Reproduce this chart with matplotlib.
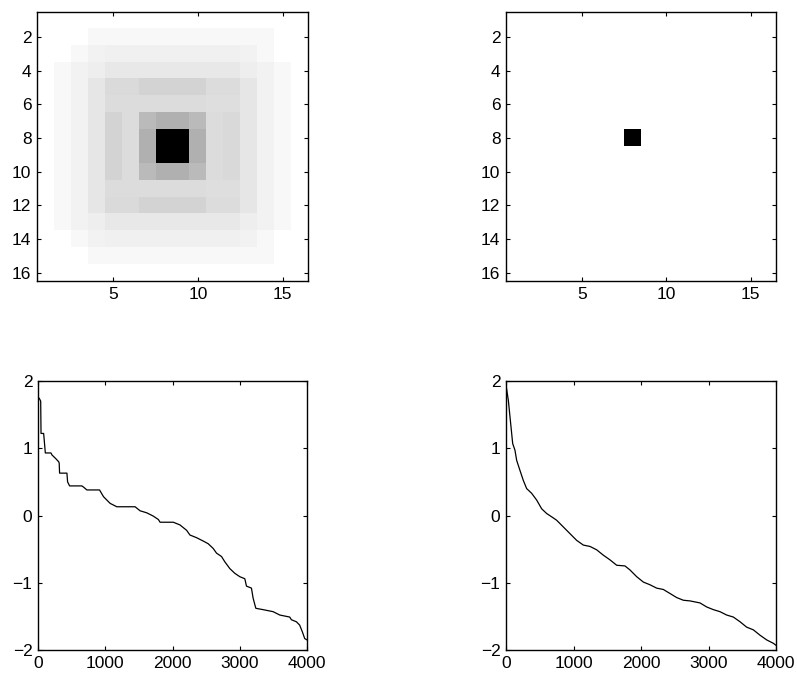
import numpy as np
import matplotlib
matplotlib.use("Agg")
import matplotlib.pyplot as plt

plt.rcParams['font.family'] = ['Liberation Sans', 'DejaVu Sans']

# ---- data ----
# darkness levels (0 = white, 255 = black) of the left 16x16 image, row by row
row_outer2 = [0, 0, 0, 7, 7, 7, 7, 7, 7, 7, 7, 7, 7, 7, 0, 0]
row_outer3 = [0, 0, 7, 13, 15, 15, 15, 15, 15, 15, 15, 15, 13, 7, 0, 0]
row_outer4 = [0, 7, 13, 17, 23, 23, 23, 23, 23, 23, 23, 23, 17, 13, 7, 0]
row_mid5 = [0, 7, 13, 25, 37, 37, 43, 43, 43, 43, 35, 35, 25, 13, 7, 0]
row_mid6 = [0, 7, 13, 25, 35, 35, 35, 35, 35, 35, 33, 33, 25, 13, 7, 0]
row_mid7 = [0, 7, 13, 25, 43, 35, 69, 79, 79, 69, 35, 38, 25, 13, 7, 0]
row_core8 = [0, 7, 13, 25, 43, 35, 79, 255, 255, 79, 35, 38, 25, 13, 7, 0]
row_blank = [0] * 16
image_left = [row_blank, row_outer2, row_outer3, row_outer4, row_mid5, row_mid6,
              row_mid7, row_core8, row_core8, row_mid7, row_mid6, row_mid5,
              row_outer4, row_outer3, row_outer2, row_blank]

image_right_peak_row = 8
image_right_peak_col = 8

# sorted curve, left (step-like)
left_x = [0, 20, 40, 45, 84, 109, 193, 208, 260, 307, 315, 321, 430, 440, 470, 653,
          680, 727, 915, 974, 1023, 1073, 1172, 1444, 1518, 1617, 1716, 1790, 1815,
          2012, 2111, 2160, 2210, 2259, 2358, 2457, 2531, 2605, 2655, 2729, 2779,
          2853, 2927, 3001, 3075, 3100, 3174, 3199, 3239, 3347, 3496, 3595, 3743,
          3768, 3842, 3891, 3931, 3966, 4000]
left_y = [1.76, 1.74, 1.70, 1.22, 1.22, 0.93, 0.93, 0.90, 0.85, 0.80, 0.78, 0.63,
          0.63, 0.50, 0.44, 0.44, 0.42, 0.38, 0.38, 0.28, 0.23, 0.18, 0.13, 0.13,
          0.07, 0.04, -0.01, -0.06, -0.10, -0.10, -0.14, -0.18, -0.22, -0.29, -0.33,
          -0.38, -0.42, -0.49, -0.56, -0.61, -0.69, -0.79, -0.86, -0.91, -0.94,
          -1.05, -1.08, -1.23, -1.38, -1.40, -1.43, -1.48, -1.51, -1.55, -1.58,
          -1.63, -1.73, -1.83, -1.85]

# sorted curve, right (smooth)
right_x = [0, 35, 59, 99, 133, 158, 207, 257, 306, 380, 454, 528, 602, 677, 750,
           849, 948, 1047, 1146, 1244, 1343, 1442, 1541, 1640, 1763, 1837, 1936,
           2035, 2133, 2232, 2331, 2430, 2528, 2627, 2726, 2874, 2973, 3072, 3170,
           3269, 3368, 3467, 3565, 3664, 3763, 3862, 3960, 4000]
right_y = [1.94, 1.71, 1.47, 1.07, 0.97, 0.82, 0.67, 0.52, 0.40, 0.33, 0.23, 0.10,
           0.03, -0.02, -0.07, -0.17, -0.27, -0.37, -0.44, -0.46, -0.51, -0.59,
           -0.66, -0.74, -0.75, -0.81, -0.91, -0.99, -1.03, -1.08, -1.10, -1.16,
           -1.22, -1.26, -1.27, -1.30, -1.36, -1.40, -1.43, -1.48, -1.51, -1.58,
           -1.66, -1.70, -1.78, -1.85, -1.90, -1.93]

img_ticks_x = [5, 10, 15]
img_ticks_y = [2, 4, 6, 8, 10, 12, 14, 16]
curve_ticks_x = [0, 1000, 2000, 3000, 4000]
curve_ticks_y = [-2, -1, 0, 1, 2]

# ---- figure ----
W, H = 797, 677
fig = plt.figure(figsize=(W / 100, H / 100), dpi=100)

def axes_px(left, top, right, bottom):
    return fig.add_axes([left / W, 1 - bottom / H, (right - left) / W, (bottom - top) / H])

def style(ax):
    ax.tick_params(direction='in', length=3, width=0.8, top=True, right=True,
                   labelsize=12.5, pad=4, colors='black')
    for s in ax.spines.values():
        s.set_linewidth(1.0)
        s.set_color('black')

ax1 = axes_px(37, 12, 308, 281)
ax2 = axes_px(506, 12, 776, 281)
ax3 = axes_px(38, 381, 307, 650)
ax4 = axes_px(506, 381, 776, 650)

img1 = np.array(image_left, dtype=float)
img2 = np.zeros((16, 16))
img2[image_right_peak_row - 1, image_right_peak_col - 1] = 255

for ax, img in ((ax1, img1), (ax2, img2)):
    ax.imshow(img, cmap='gray_r', vmin=0, vmax=255, interpolation='nearest',
              extent=(0.5, 16.5, 16.5, 0.5), aspect='auto')
    ax.set_xlim(0.5, 16.5)
    ax.set_ylim(16.5, 0.5)
    ax.set_xticks(img_ticks_x)
    ax.set_yticks(img_ticks_y)
    style(ax)

for ax, xs, ys in ((ax3, left_x, left_y), (ax4, right_x, right_y)):
    ax.plot(xs, ys, color='black', linewidth=0.9)
    ax.set_xlim(0, 4000)
    ax.set_ylim(-2, 2)
    ax.set_xticks(curve_ticks_x)
    ax.set_yticks(curve_ticks_y)
    ax.set_yticklabels(['\u22122', '\u22121', '0', '1', '2'])
    style(ax)

fig.savefig('out.png', dpi=100)
